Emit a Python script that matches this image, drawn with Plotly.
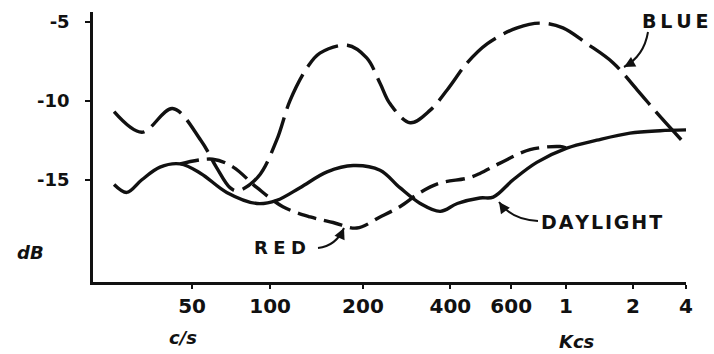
import numpy as np
import plotly.graph_objects as go

# ---------------- data ----------------
TICK_FREQ = [50, 100, 200, 400, 600, 1000, 2000, 4000]          # c/s
TICK_TEXT = ["50", "100", "200", "400", "600", "1", "2", "4"]
# the hand-drawn frequency axis is not a strict log scale: drawn octave
# position of each tick (50 c/s = 0), used as the axis scale
SCALE_FREQ = [20, 25, 50, 100, 200, 400, 600, 1000, 2000, 4000]
SCALE_OCT = [-1.32, -1.0, 0.0, 1.0, 2.19, 3.31, 4.09, 4.79, 5.65, 6.33]

Y_TICKS = [-5, -10, -15]
Y_TICK_TEXT = ["-5", "-10", "-15"]

BLUE_F = [25, 32, 42, 54, 62, 70, 75, 90, 105, 116, 132, 145, 178, 206, 229,
          248, 291, 341, 391, 448, 512, 634, 785, 973, 1243, 1627, 2106, 2848, 4000]
BLUE_DB = [-10.7, -12.0, -10.5, -12.5, -14.2, -15.5, -15.7, -14.8, -12.5, -10.0,
           -7.9, -7.0, -6.5, -7.3, -8.9, -10.2, -11.4, -10.6, -9.3, -7.6, -6.4,
           -5.4, -5.1, -5.4, -6.4, -7.6, -9.3, -11.0, -12.8]

DAY_F = [25, 28, 32, 37.6, 45, 54, 68, 89, 105, 125, 153, 186, 229, 268, 315,
         369, 419, 487, 532, 611, 762, 1010, 1378, 1940, 2848, 4000]
DAY_DB = [-15.3, -15.8, -15.0, -14.2, -14.0, -14.6, -15.8, -16.5, -16.3, -15.5,
          -14.5, -14.1, -14.4, -15.5, -16.5, -17.0, -16.5, -16.15, -16.1, -15.0,
          -13.9, -13.0, -12.5, -12.05, -11.9, -11.85]

RED_F = [45, 60, 72, 89, 110, 135, 160, 191, 229, 268, 315, 369, 448, 487, 557,
         715, 947, 1010]
RED_DB = [-14.0, -13.7, -14.2, -15.5, -16.7, -17.35, -17.7, -18.05, -17.35, -16.7,
          -15.8, -15.2, -14.9, -14.6, -13.95, -13.1, -12.9, -13.0]


def fx(f):
    """Frequency -> position on the drawn frequency axis."""
    return np.interp(np.log10(f), np.log10(SCALE_FREQ), SCALE_OCT)


FONT = "DejaVu Sans"
INK = "#111111"

# plot-area geometry (pixels) used to place the hand-drawn labels/arrows
L, R, T, B = 93, 686, 12, 282


def px(xp, yp):
    return (xp - L) / (R - L), (B - yp) / (B - T)


fig = go.Figure()
fig.add_trace(go.Scatter(x=fx(BLUE_F), y=BLUE_DB, mode="lines", name="BLUE",
                         line=dict(color=INK, width=3.4, dash="38px,9px",
                                   shape="spline", smoothing=1.0)))
fig.add_trace(go.Scatter(x=fx(DAY_F), y=DAY_DB, mode="lines", name="DAYLIGHT",
                         line=dict(color=INK, width=3.4,
                                   shape="spline", smoothing=1.0)))
fig.add_trace(go.Scatter(x=fx(RED_F), y=RED_DB, mode="lines", name="RED",
                         line=dict(color=INK, width=3.4, dash="19px,8px",
                                   shape="spline", smoothing=1.0)))

ann = []
shapes = []
lab = dict(family=FONT, size=19, color=INK, weight="bold")
c = dict(xref="paper", yref="paper", showarrow=False, xanchor="center", yanchor="middle")
ann.append(dict(text="B\u2009L\u2009U\u2009E", x=0.981, y=0.966, font=lab, **c))
ann.append(dict(text="R\u2009\u200aE\u2009\u200aD", x=0.315, y=0.126,
                font=dict(family=FONT, size=18, color=INK, weight="bold"), **c))
ann.append(dict(text="D\u200aA\u200aY\u200aL\u200aI\u200aG\u200aH\u200aT",
                x=0.858, y=0.222, font=lab, **c))

# curved pointer arrows: (start, control, tip) in pixels, plus head direction
ARROWS = [((648, 32), (644, 56), (624, 67)),
          ((318, 248), (336, 246), (344, 228)),
          ((538, 221), (512, 220), (499, 202))]
for (s, cp, e) in ARROWS:
    x0, y0 = px(*s)
    x1, y1 = px(*cp)
    x2, y2 = px(*e)
    shapes.append(dict(type="path", xref="paper", yref="paper",
                       path=f"M {x0},{y0} Q {x1},{y1} {x2},{y2}",
                       line=dict(color=INK, width=2)))
    dx, dy = cp[0] - e[0], cp[1] - e[1]
    n = (dx * dx + dy * dy) ** 0.5
    ann.append(dict(xref="paper", yref="paper", x=x2, y=y2,
                    ax=10 * dx / n, ay=10 * dy / n, text="", showarrow=True,
                    arrowhead=2, arrowsize=1.1, arrowwidth=2, arrowcolor=INK,
                    standoff=0))

# axis titles
it = dict(family=FONT, size=18, color=INK, weight="bold", style="italic")
ann.append(dict(text="dB", x=-0.105, y=0.111, font=it, **c))
ann.append(dict(text="c/s", x=0.152, y=-0.207, font=it, **c))
ann.append(dict(text="Kcs", x=0.816, y=-0.219, font=it, **c))

fig.update_layout(
    width=714, height=354,
    margin=dict(l=L, r=714 - R, t=T, b=354 - B),
    paper_bgcolor="white", plot_bgcolor="white",
    showlegend=False,
    annotations=ann,
    shapes=shapes,
    xaxis=dict(range=[-1.27, 6.33], showgrid=False, zeroline=False,
               showline=True, linecolor=INK, linewidth=2.5,
               tickmode="array", tickvals=fx(TICK_FREQ).tolist(), ticktext=TICK_TEXT,
               ticks="outside", ticklen=4, tickwidth=2, tickcolor=INK,
               tickfont=dict(family=FONT, size=20, color=INK, weight="bold")),
    yaxis=dict(range=[-21.46, -4.40], showgrid=False, zeroline=False,
               showline=True, linecolor=INK, linewidth=2.5,
               tickmode="array", tickvals=Y_TICKS, ticktext=Y_TICK_TEXT,
               ticks="outside", ticklen=5, tickwidth=2, tickcolor=INK,
               ticklabelstandoff=12,
               tickfont=dict(family=FONT, size=18, color=INK, weight="bold")),
)

fig.write_html("out.html")
